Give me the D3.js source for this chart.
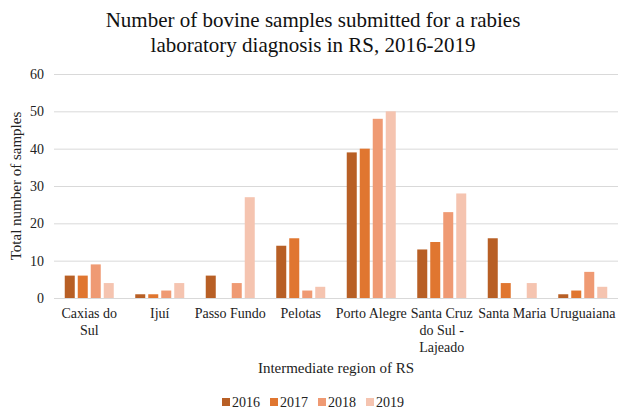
<!DOCTYPE html>
<html>
<head>
<meta charset="utf-8">
<script src="https://cdn.jsdelivr.net/npm/d3@7"></script>
</head>
<body style="margin:0;background:#fff">
<svg id="chart" width="619" height="414" font-family="Liberation Serif" style="display:block"></svg>
<script>
// Bovine rabies samples per intermediate region, 2016-2019
const regions = [
  ["Caxias do", "Sul"],
  ["Ijuí"],
  ["Passo Fundo"],
  ["Pelotas"],
  ["Porto Alegre"],
  ["Santa Cruz", "do Sul -", "Lajeado"],
  ["Santa Maria"],
  ["Uruguaiana"]
];
const years = ["2016", "2017", "2018", "2019"];
const values2016 = [6, 1, 6, 14, 39, 13, 16, 1];
const values2017 = [6, 1, 0, 16, 40, 15, 4, 2];
const values2018 = [9, 2, 4, 2, 48, 23, 0, 7];
const values2019 = [4, 4, 27, 3, 50, 28, 4, 3];
const yTicks = [0, 10, 20, 30, 40, 50, 60];
const colors = ["#B85F25", "#E07630", "#EF9A73", "#F5C4B0"];

const series = [values2016, values2017, values2018, values2019];
const regionKeys = regions.map(r => r.join(" "));
const serif = "Liberation Serif";

const svg = d3.select("#chart");
const plotLeft = 54, plotRight = 618, plotTop = 74, plotBottom = 298;

const x0 = d3.scaleBand().domain(regionKeys).range([plotLeft, plotRight]).paddingInner(0.305).paddingOuter(0.1525);
const x1 = d3.scaleBand().domain(years).range([0, x0.bandwidth()]).paddingInner(0.23);
const y = d3.scaleLinear().domain([0, 60]).range([plotBottom, plotTop]);
const color = d3.scaleOrdinal().domain(years).range(colors);

// Title
svg.append("text")
  .attr("x", 313).attr("y", 27)
  .attr("text-anchor", "middle")
  .attr("font-family", serif)
  .attr("font-size", 21).attr("fill", "#111")
  .selectAll("tspan")
  .data(["Number of bovine samples submitted for a rabies", "laboratory diagnosis in RS, 2016-2019"])
  .join("tspan")
  .attr("x", 313)
  .attr("dy", (d, i) => i === 0 ? 0 : 25)
  .text(d => d);

// Gridlines and y tick labels
const yAxis = d3.axisLeft(y).tickValues(yTicks).tickSize(-(plotRight - plotLeft)).tickPadding(10);
const gy = svg.append("g").attr("transform", `translate(${plotLeft},0)`).call(yAxis);
gy.attr("font-family", serif).attr("font-size", 14);
gy.select(".domain").remove();
gy.selectAll(".tick line").attr("stroke", "#d9d9d9").attr("stroke-width", 1);
gy.selectAll(".tick text").attr("fill", "#222");

// Bars
const groups = svg.append("g").selectAll("g")
  .data(regionKeys)
  .join("g")
  .attr("transform", d => `translate(${x0(d)},0)`);

groups.selectAll("rect")
  .data((d, i) => years.map((yr, j) => ({ year: yr, value: series[j][i] })))
  .join("rect")
  .attr("x", d => x1(d.year))
  .attr("width", x1.bandwidth())
  .attr("y", d => y(d.value))
  .attr("height", d => y(0) - y(d.value))
  .attr("fill", d => color(d.year));

// X axis line
svg.append("line")
  .attr("x1", plotLeft).attr("x2", plotRight)
  .attr("y1", y(0) + 0.5).attr("y2", y(0) + 0.5)
  .attr("stroke", "#d9d9d9").attr("stroke-width", 1);

// Category labels (multi-line)
const xl = svg.append("g").attr("font-family", serif).attr("font-size", 14);
regions.forEach((lines, i) => {
  const cx = x0(regionKeys[i]) + x0.bandwidth() / 2;
  const t = xl.append("text")
    .attr("text-anchor", "middle")
    .attr("y", 318)
    .attr("fill", "#222");
  lines.forEach((ln, k) => {
    t.append("tspan").attr("x", cx).attr("dy", k === 0 ? 0 : 17).text(ln);
  });
});

// Axis titles
svg.append("text")
  .attr("x", (plotLeft + plotRight) / 2).attr("y", 373)
  .attr("text-anchor", "middle")
  .attr("font-family", serif)
  .attr("font-size", 15).attr("fill", "#222")
  .text("Intermediate region of RS");

svg.append("text")
  .attr("transform", `translate(21,${(plotTop + plotBottom) / 2}) rotate(-90)`)
  .attr("text-anchor", "middle")
  .attr("font-family", serif)
  .attr("font-size", 15).attr("fill", "#222")
  .text("Total number of samples");

// Legend
const legend = svg.append("g").attr("transform", "translate(222,407)")
  .attr("font-family", serif).attr("font-size", 14);
const items = legend.selectAll("g").data(years).join("g")
  .attr("transform", (d, i) => `translate(${i * 48},0)`);
items.append("rect")
  .attr("x", 0).attr("y", -9).attr("width", 8).attr("height", 8)
  .attr("fill", d => color(d));
items.append("text")
  .attr("x", 10).attr("y", 0)
  .attr("fill", "#222")
  .text(d => d);
</script>
</body>
</html>
